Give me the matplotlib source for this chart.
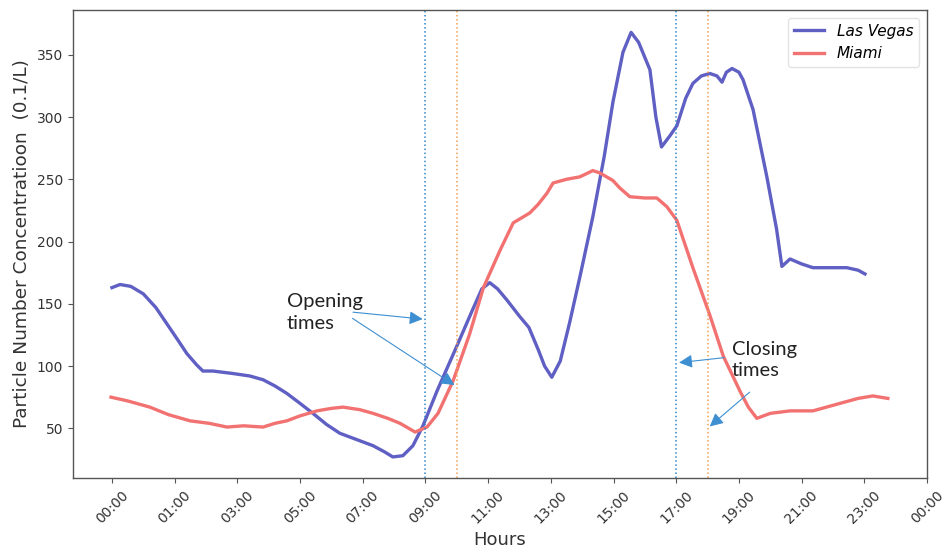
import matplotlib
matplotlib.use("Agg")
import matplotlib.pyplot as plt

# Hour of day (clock hours) and particle concentration readings
lv_hours = [-1.0, -0.74, -0.4, 0.0, 0.4, 0.75, 1.1, 1.39, 1.7, 1.9, 2.22, 2.86, 3.4, 3.82,
            4.2, 4.58, 5.0, 5.41, 5.85, 6.27, 6.8, 7.33, 7.7, 7.96, 8.28, 8.6, 8.92, 9.37,
            10.0, 10.5, 10.8, 11.05, 11.3, 11.6, 12.0, 12.3, 12.6, 12.8, 13.03, 13.3, 13.6,
            13.93, 14.34, 14.7, 14.98, 15.3, 15.56, 15.8, 16.16, 16.35, 16.53, 16.8, 17.02,
            17.3, 17.53, 17.8, 18.07, 18.3, 18.46, 18.6, 18.78, 19.0, 19.13, 19.45, 19.89,
            20.2, 20.37, 20.63, 21.0, 21.36, 22.0, 22.44, 22.8, 23.02]
lv_values = [163, 165.5, 164, 158, 147, 134, 121, 110, 101, 96, 96, 94, 92, 89,
             84, 78, 70, 62, 53, 46, 41, 36, 31, 27, 28, 36, 52, 80,
             116, 145, 162, 167, 162, 153, 140, 131, 113, 100, 91, 104, 135,
             172, 220, 268, 312, 352, 368, 360, 338, 300, 276, 285, 293,
             315, 327, 333, 335, 333, 328, 336, 339, 336, 330, 306, 252,
             210, 180, 186, 182, 179, 179, 179, 177, 174]

mia_hours = [-1.03, -0.5, 0.21, 0.8, 1.49, 2.1, 2.67, 3.2, 3.82, 4.2, 4.58, 5.0, 5.54, 6.0,
             6.37, 6.9, 7.33, 7.8, 8.19, 8.67, 9.05, 9.4, 9.88, 10.4, 10.85, 11.38, 11.8,
             12.33, 12.6, 12.88, 13.07, 13.5, 13.93, 14.34, 14.57, 14.98, 15.2, 15.52, 16.0,
             16.38, 16.7, 17.02, 17.53, 18.07, 18.5, 19.03, 19.3, 19.57, 20.0, 20.63, 21.36,
             22.22, 22.8, 23.27, 23.75]
mia_values = [75, 72, 67, 61, 56, 54, 51, 52, 51, 54, 56, 60, 64, 66,
              67, 65, 62, 58, 54, 47, 51, 62, 88, 125, 163, 193, 215,
              223, 230, 239, 247, 250, 252, 257, 255, 249, 243, 236, 235,
              235, 228, 217, 179, 141, 108, 80, 67, 58, 62, 64, 64,
              70, 74, 76, 74]

tick_hours = [-1, 1, 3, 5, 7, 9, 11, 13, 15, 17, 19, 21, 23, 25]
tick_labels = ["00:00", "01:00", "03:00", "05:00", "07:00", "09:00", "11:00",
               "13:00", "15:00", "17:00", "19:00", "21:00", "23:00", "00:00"]

opening_hours = [9, 10]
closing_hours = [17, 18]

fig = plt.figure(figsize=(9.45, 5.54), dpi=100)
ax = fig.add_axes([0.077, 0.137, 0.904, 0.845])

ax.plot(lv_hours, lv_values, color="#5f5fc4", lw=2.4, label="Las Vegas")
ax.plot(mia_hours, mia_values, color="#f27272", lw=2.4, label="Miami")

ax.axvline(opening_hours[0], color="#2f86c8", ls=":", lw=1.1)
ax.axvline(opening_hours[1], color="#f0a050", ls=":", lw=1.1)
ax.axvline(closing_hours[0], color="#2f86c8", ls=":", lw=1.1)
ax.axvline(closing_hours[1], color="#f0a050", ls=":", lw=1.1)

arrow_kw = dict(arrowstyle="-|>", color="#3d8fd1", lw=0.8, mutation_scale=20)
ann_font = dict(family="Lato", fontsize=14.5, color="#222222")

ax.text(4.58, 143, "Opening\ntimes", ha="left", va="center", linespacing=1.3, **ann_font)
ax.annotate("", xy=(opening_hours[0], 137.5), xytext=(6.6, 143.5), arrowprops=arrow_kw)
ax.annotate("", xy=(opening_hours[1], 83.5), xytext=(6.6, 139.5), arrowprops=arrow_kw)

ax.text(18.78, 105, "Closing\ntimes", ha="left", va="center", linespacing=1.3, **ann_font)
ax.annotate("", xy=(closing_hours[0], 102.5), xytext=(18.62, 107), arrowprops=arrow_kw)
ax.annotate("", xy=(closing_hours[1], 50), xytext=(19.41, 80.5), arrowprops=arrow_kw)

ax.set_xticks(tick_hours)
ax.set_xticklabels(tick_labels, rotation=45, fontsize=10, color="#333333")
ax.set_yticks([50, 100, 150, 200, 250, 300, 350])
ax.tick_params(axis="y", labelsize=10, labelcolor="#333333")
ax.tick_params(direction="out", length=3.5, width=0.8, color="#555555")
ax.set_xlim(-2.25, 25)
ax.set_ylim(10, 386)

for s in ax.spines.values():
    s.set_color("#555555")
    s.set_linewidth(1.0)

ax.set_xlabel("Hours", fontsize=13, color="#333333")
ax.set_ylabel("Particle Number Concentratioon  (0.1/L)", fontsize=13.3, color="#333333")

leg = ax.legend(loc="upper right", prop={"style": "italic", "size": 11},
                frameon=True, fancybox=True, edgecolor="#dddddd")

fig.savefig("out.png", dpi=100)
